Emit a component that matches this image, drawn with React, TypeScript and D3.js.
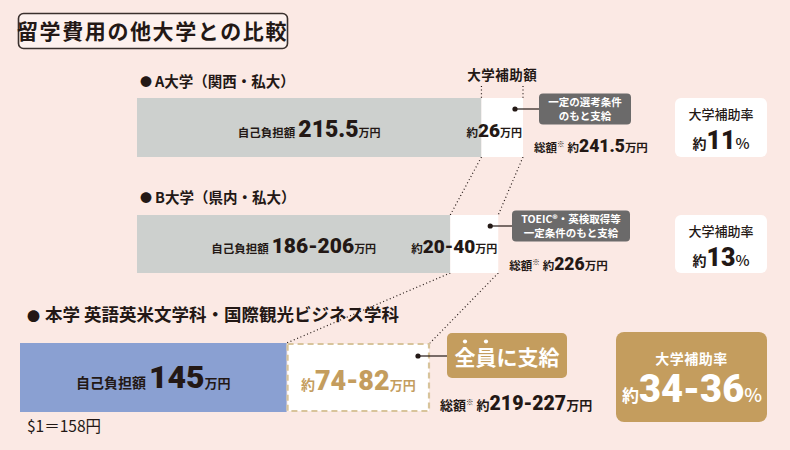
import React from "react";
import * as d3 from "d3";

const universities = ["A大学（関西・私大）", "B大学（県内・私大）", "本学 英語英米文学科・国際観光ビジネス学科"];
const selfPayValues = [215.5, 196, 145];
const selfPayLabels = ["215.5", "186-206", "145"];
const aidValues = [26, 30, 78];
const aidLabels = ["26", "20-40", "74-82"];
const totalLabels = ["241.5", "226", "219-227"];
const rateLabels = ["11", "13", "34-36"];
const conditionLines = [["一定の選考条件", "のもと支給"], ["TOEIC®・英検取得等", "一定条件のもと支給"], ["全員に支給"]];
const titleText = "留学費用の他大学との比較";
const aidHeader = "大学補助額";
const rateHeader = "大学補助率";
const exchangeNote = "$1＝158円";

const W = 790, H = 450;
const BG = "#fbe9e4";
const INK = "#231815";
const GRAY = "#cdd0ce";
const BLUE = "#8aa0d2";
const GOLD = "#c49d5e";
const DASH = "#d8c49b";
const CALLOUT = "#6b6a6a";
const JP = "'Noto Sans CJK JP', 'Noto Sans', sans-serif";
const NUM = "Roboto, 'Noto Sans CJK JP', sans-serif";
const NW = 900;

const xTop = d3.scaleLinear().domain([0, 241.5]).range([137, 523]);
const xOurs = d3.scaleLinear().domain([0, 223]).range([20, 430]);
const scales = [xTop, xTop, xOurs];
const rowBand = d3.scaleOrdinal<number, [number, number]>().domain([0, 1, 2]).range([[98, 157], [215, 273], [343, 412]]);
const labelY = [87, 203, 321];

export default function App() {
  const rows = universities.map((u, i) => {
    const x = scales[i];
    const [y0, y1] = rowBand(i);
    return { u, i, x0: x(0), x1: x(selfPayValues[i]), x2: x(selfPayValues[i] + aidValues[i]), y0, y1 };
  });
  const dot = { stroke: INK, strokeWidth: 1.2, strokeDasharray: "1 2.6", fill: "none" } as const;
  const ours = rows[2];
  const fsBadge = 21;
  const badgeCx = 507;
  return (
    <svg width={W} height={H} style={{ position: "absolute", left: 0, top: 0 }} fontFamily={JP}>
      <rect width={W} height={H} fill={BG} />
      {/* title */}
      <rect x={18.5} y={13.5} width={269} height={35} rx={5} fill="#fdf1ee" stroke="#3a302d" strokeWidth={1.6} />
      <text x={152.5} y={38.5} textAnchor="middle" fontSize={21} fontWeight={700} fill={INK} letterSpacing={1.6}>{titleText}</text>

      {/* aid header */}
      <text x={(rows[0].x1 + rows[0].x2) / 2} y={80} textAnchor="middle" fontSize={13.5} fontWeight={700} fill={INK} letterSpacing={0.5}>{aidHeader}</text>
      <line x1={rows[0].x1} x2={rows[0].x1} y1={86} y2={rows[0].y0} {...dot} />
      <line x1={rows[0].x2} x2={rows[0].x2} y1={86} y2={rows[0].y0} {...dot} />

      {/* connectors */}
      {rows.slice(0, 2).map((r, i) => {
        const n = rows[i + 1];
        return (
          <g key={"c" + i}>
            <line x1={r.x1} y1={r.y1} x2={n.x1} y2={n.y0} {...dot} />
            <line x1={r.x2} y1={r.y1} x2={n.x2} y2={n.y0} {...dot} />
          </g>
        );
      })}

      {rows.map((r) => {
        const i = r.i;
        const isOurs = i === 2;
        return (
          <g key={i}>
            <text x={isOurs ? 27 : 140} y={labelY[i]} fontSize={isOurs ? 17.5 : 14.5} fontWeight={700} fill={INK}>
              <tspan fontSize={isOurs ? 13 : 12}>●</tspan>
              <tspan dx={isOurs ? 5 : 3}>{r.u}</tspan>
            </text>
            <rect x={r.x0} y={r.y0} width={r.x1 - r.x0} height={r.y1 - r.y0} fill={isOurs ? BLUE : GRAY} />
            {isOurs ? (
              <rect x={r.x1 + 1} y={r.y0 + 1} width={r.x2 - r.x1 - 2} height={r.y1 - r.y0 - 2} fill="#fff" stroke={DASH} strokeWidth={2.2} strokeDasharray="6 4" />
            ) : (
              <rect x={r.x1} y={r.y0} width={r.x2 - r.x1} height={r.y1 - r.y0} fill="#fff" />
            )}
            {/* self-pay label */}
            <text x={(r.x0 + r.x1) / 2} y={isOurs ? 388 : (r.y0 + r.y1) / 2 + 9} textAnchor="middle" fill={INK} fontWeight={700}>
              <tspan fontSize={isOurs ? 14 : 11.5}>自己負担額</tspan>
              <tspan fontFamily={NUM} fontWeight={NW} fontSize={isOurs ? 32 : i === 0 ? 23 : 21} dx={3}>{selfPayLabels[i]}</tspan>
              <tspan fontSize={isOurs ? 13 : 11}>万円</tspan>
            </text>
            {/* aid label */}
            <text x={isOurs ? (r.x1 + r.x2) / 2 : r.x2 - 1} y={isOurs ? 390 : (r.y0 + r.y1) / 2 + 9} textAnchor={isOurs ? "middle" : "end"} fill={isOurs ? GOLD : INK} fontWeight={700}>
              <tspan fontSize={isOurs ? 14 : 11.5}>約</tspan>
              <tspan fontFamily={NUM} fontWeight={NW} fontSize={isOurs ? 27 : 19}>{aidLabels[i]}</tspan>
              <tspan fontSize={isOurs ? 13 : 11}>万円</tspan>
            </text>
            {/* total */}
            <text x={isOurs ? 440 : r.x2 + 11} y={isOurs ? 410 : r.y1 - 5 + (i === 1 ? 2 : 0)} fill={INK} fontWeight={700}>
              <tspan fontSize={isOurs ? 13 : 11.5}>総額</tspan>
              <tspan fontSize={7.5} dy={-5}>※</tspan>
              <tspan fontSize={isOurs ? 13 : 11.5} dy={5} dx={3}>約</tspan>
              <tspan fontFamily={NUM} fontWeight={NW} fontSize={isOurs ? 19.5 : 17.5}>{totalLabels[i]}</tspan>
              <tspan fontSize={isOurs ? 13 : 11.5}>万円</tspan>
            </text>
          </g>
        );
      })}

      {/* callouts */}
      {[0, 1].map((i) => {
        const r = rows[i];
        const cy = i === 0 ? 109 : 226;
        const bx = i === 0 ? 539 : 512;
        const bw = i === 0 ? 92 : 118;
        const dx = r.x2 - 8;
        return (
          <g key={"co" + i}>
            <line x1={dx} x2={bx} y1={cy} y2={cy} stroke={INK} strokeWidth={1.2} />
            <circle cx={dx} cy={cy} r={2.6} fill={INK} />
            <rect x={bx} y={cy - 15.5} width={bw} height={31} rx={4} fill={CALLOUT} />
            {conditionLines[i].map((t, k) => (
              <text key={k} x={bx + bw / 2} y={cy - 3 + k * 13.8} textAnchor="middle" fontSize={10.5} fontWeight={700} fill="#fff">{t}</text>
            ))}
          </g>
        );
      })}
      <g>
        <line x1={ours.x2 - 12} x2={447} y1={356} y2={356} stroke={INK} strokeWidth={1.2} />
        <circle cx={ours.x2 - 12} cy={356} r={2.6} fill={INK} />
        <rect x={447} y={333} width={120} height={45} rx={5} fill={GOLD} />
        <text x={badgeCx} y={365} textAnchor="middle" fontSize={fsBadge} fontWeight={700} fill="#fff">{conditionLines[2][0]}</text>
        {[0, 1].map((k) => (
          <circle key={k} cx={badgeCx - 2.5 * fsBadge + fsBadge / 2 + k * fsBadge} cy={341.5} r={2.1} fill="#fff" />
        ))}
      </g>

      {/* rate boxes */}
      {[0, 1].map((i) => {
        const r = rows[i];
        const bx = 675, bw = 92;
        return (
          <g key={"rb" + i}>
            <rect x={bx} y={r.y0} width={bw} height={r.y1 - r.y0} rx={6} fill="#fff" />
            <text x={bx + bw / 2} y={r.y0 + 21} textAnchor="middle" fontSize={13} fontWeight={500} fill={INK}>{rateHeader}</text>
            <text x={bx + bw / 2} y={r.y0 + 51} textAnchor="middle" fill={INK} fontWeight={700}>
              <tspan fontSize={14}>約</tspan>
              <tspan fontFamily={NUM} fontWeight={NW} fontSize={25}>{rateLabels[i]}</tspan>
              <tspan fontSize={15} fontWeight={500}>%</tspan>
            </text>
          </g>
        );
      })}
      <g>
        <rect x={616} y={332} width={151} height={90} rx={8} fill={GOLD} />
        <text x={691.5} y={364} textAnchor="middle" fontSize={14} fontWeight={700} fill="#fff" letterSpacing={0.5}>{rateHeader}</text>
        <text x={692} y={402} textAnchor="middle" fill="#fff" fontWeight={700}>
          <tspan fontSize={17}>約</tspan>
          <tspan fontFamily={NUM} fontWeight={NW} fontSize={38}>{rateLabels[2]}</tspan>
          <tspan fontSize={19} fontWeight={500}>%</tspan>
        </text>
      </g>

      <text x={27} y={432} fontSize={15.5} fill={INK} fontFamily="'Noto Sans CJK JP', sans-serif">{exchangeNote}</text>
    </svg>
  );
}
